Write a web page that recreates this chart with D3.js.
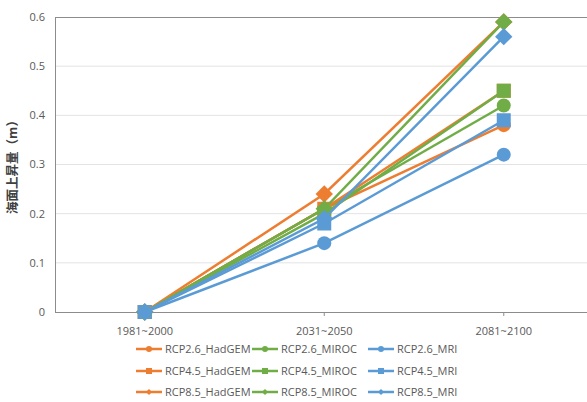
<!DOCTYPE html>
<html><head><meta charset="utf-8">
<script src="https://cdn.jsdelivr.net/npm/d3@7"></script>
<style>body{margin:0;background:#fff;}svg{display:block;}text{font-family:"Open Sans","Noto Sans CJK JP",sans-serif;}</style>
</head><body>
<script>
const categories = ["1981~2000", "2031~2050", "2081~2100"];
const seriesNames = ["RCP2.6_HadGEM","RCP2.6_MIROC","RCP2.6_MRI","RCP4.5_HadGEM","RCP4.5_MIROC","RCP4.5_MRI","RCP8.5_HadGEM","RCP8.5_MIROC","RCP8.5_MRI"];
const rcp26_HadGEM = [0, 0.21, 0.38];
const rcp26_MIROC  = [0, 0.21, 0.42];
const rcp26_MRI    = [0, 0.14, 0.32];
const rcp45_HadGEM = [0, 0.21, 0.45];
const rcp45_MIROC  = [0, 0.20, 0.45];
const rcp45_MRI    = [0, 0.18, 0.39];
const rcp85_HadGEM = [0, 0.24, 0.59];
const rcp85_MIROC  = [0, 0.21, 0.59];
const rcp85_MRI    = [0, 0.19, 0.56];
const yTicks = [0, 0.1, 0.2, 0.3, 0.4, 0.5, 0.6];
const yTickLabels = ["0", "0.1", "0.2", "0.3", "0.4", "0.5", "0.6"];
const yTitle = "海面上昇量（m）";

const seriesValues = [rcp26_HadGEM, rcp26_MIROC, rcp26_MRI, rcp45_HadGEM, rcp45_MIROC, rcp45_MRI, rcp85_HadGEM, rcp85_MIROC, rcp85_MRI];
const colors = ["#ED7D31", "#70AD47", "#5B9BD5"];
const shapes = ["circle", "square", "diamond"];

const W = 587, H = 402;
const svg = d3.select("body").append("svg").attr("width", W).attr("height", H);
const pL = 55, pT = 17, pB = 312, pR = 593.5;

const x = d3.scaleBand().domain(categories).range([pL, pR]);
const y = d3.scaleLinear().domain([0, 0.6]).range([pB, pT]);
const cx = c => x(c) + x.bandwidth() / 2;

// gridlines
svg.append("g").selectAll("line").data(yTicks.filter(d => d > 0 && d < 0.6)).join("line")
  .attr("x1", pL).attr("x2", pR).attr("y1", d => y(d)).attr("y2", d => y(d))
  .attr("stroke", "#e3e3e3").attr("stroke-width", 1);

// plot border
svg.append("rect").attr("x", pL + 0.5).attr("y", pT + 0.5).attr("width", pR - pL).attr("height", pB - pT)
  .attr("fill", "none").attr("stroke", "#8c8c8c").attr("stroke-width", 1);

// y axis labels
svg.append("g").selectAll("text").data(yTicks).join("text")
  .attr("x", 45).attr("y", d => y(d)).attr("dy", "0.35em").attr("text-anchor", "end")
  .attr("font-size", 11).attr("fill", "#595959").text((d, i) => yTickLabels[i]);

// x ticks & labels
svg.append("g").selectAll("line").data(categories).join("line")
  .attr("x1", d => cx(d)).attr("x2", d => cx(d)).attr("y1", pB).attr("y2", pB + 4)
  .attr("stroke", "#8c8c8c");
svg.append("g").selectAll("text").data(categories).join("text")
  .attr("x", d => cx(d)).attr("y", 335).attr("text-anchor", "middle")
  .attr("font-size", 11).attr("fill", "#595959").text(d => d);

// y title
svg.append("text").attr("transform", `translate(17,164) rotate(-90)`)
  .attr("text-anchor", "middle").attr("font-size", 12.5).attr("font-weight", "bold").attr("fill", "#404040")
  .text(yTitle);

function marker(g, shape, color, px, py, s) {
  if (shape === "circle") g.append("circle").attr("cx", px).attr("cy", py).attr("r", s / 2).attr("fill", color);
  else if (shape === "square") g.append("rect").attr("x", px - s / 2).attr("y", py - s / 2).attr("width", s).attr("height", s).attr("fill", color);
  else g.append("path").attr("d", `M${px},${py - s * 0.62}L${px + s * 0.62},${py}L${px},${py + s * 0.62}L${px - s * 0.62},${py}Z`).attr("fill", color);
}

const line = d3.line().x((d, i) => cx(categories[i])).y(d => y(d));
const plot = svg.append("g");
seriesValues.forEach((vals, si) => {
  const color = colors[si % 3], shape = shapes[Math.floor(si / 3)];
  const g = plot.append("g");
  g.append("path").attr("d", line(vals)).attr("fill", "none").attr("stroke", color).attr("stroke-width", 2.5);
  vals.forEach((v, i) => marker(g, shape, color, cx(categories[i]), y(v), 14));
});

// legend
const legX = [136, 252, 368], legY = [349, 371, 392];
seriesNames.forEach((name, si) => {
  const col = si % 3, row = Math.floor(si / 3);
  const g = svg.append("g").attr("transform", `translate(${legX[col]},${legY[row]})`);
  g.append("line").attr("x1", 0).attr("x2", 26).attr("y1", 0).attr("y2", 0).attr("stroke", colors[col]).attr("stroke-width", 2.5);
  marker(g, shapes[row], colors[col], 13, 0, row === 2 ? 5 : 6);
  g.append("text").attr("x", 29).attr("y", 0).attr("dy", "0.35em").attr("font-size", 11).attr("fill", "#595959").text(name);
});
</script>
</body></html>
